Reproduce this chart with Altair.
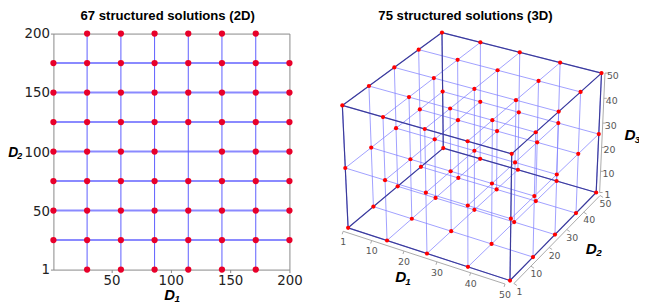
import numpy as np
import pandas as pd
import altair as alt

# ---------------- data ----------------
TITLE_2D = "67 structured solutions (2D)"
TITLE_3D = "75 structured solutions (3D)"

d1_levels_2d = [1, 29.4, 57.9, 86.3, 114.7, 143.1, 171.6, 200]
d2_levels_2d = [1, 25.9, 50.8, 75.6, 100.5, 125.4, 150.3, 175.1, 200]
missing_2d = [(1, 1), (200, 1), (1, 200), (200, 200), (114.7, 100.5)]
x_ticks_2d = [50, 100, 150, 200]
y_ticks_2d = [1, 50, 100, 150, 200]

d1_levels_3d = [1, 13.25, 25.5, 37.75, 50]
d2_levels_3d = [1, 13.25, 25.5, 37.75, 50]
d3_levels_3d = [1, 25.5, 50]
ticks_3d = [1, 10, 20, 30, 40, 50]

# ---------------- 3D camera (view settings) ----------------
PHI = 0.52287      # elevation (rad)
THETA = -1.04706   # azimuth (rad)
DIST = 8.5709      # eye distance, in box widths
HRATIO = 0.75187   # box height / box width
S = 187.855        # pixels per box width
CX, CY = 480.295, 150.629  # page position of box centre

VX0, VY0 = 54, 32  # view origin on page


def screen(P):
    P = np.asarray(P, float)
    a = (P[:, 0] - 25.5) / 49.0
    b = (P[:, 1] - 25.5) / 49.0
    c = (P[:, 2] - 25.5) / 49.0 * HRATIO
    eye = DIST * np.array([np.cos(PHI) * np.cos(THETA), np.cos(PHI) * np.sin(THETA), np.sin(PHI)])
    f = -eye / DIST
    r = np.cross(f, [0, 0, 1.0])
    r /= np.linalg.norm(r)
    u = np.cross(r, f)
    d = np.stack([a, b, c], 1) - eye
    zc = d @ f
    return DIST * (d @ r) / zc, DIST * (d @ u) / zc


# ---------------- 2D layers ----------------
pts2 = pd.DataFrame([(x, y) for y in d2_levels_2d for x in d1_levels_2d
                     if (x, y) not in missing_2d], columns=["D1", "D2"])
vl2 = pd.DataFrame({"D1": d1_levels_2d[1:-1], "lo": d2_levels_2d[0], "hi": d2_levels_2d[-1]})
hl2 = pd.DataFrame({"D2": d2_levels_2d[1:-1], "lo": d1_levels_2d[0], "hi": d1_levels_2d[-1]})

xs2 = alt.Scale(domain=[1, 200], nice=False, zero=False)
ys2 = alt.Scale(domain=[1, 200], nice=False, zero=False)
axis_common = dict(title=None, grid=False, domain=False, tickSize=3, tickColor="#888888",
                   labelFont="DejaVu Sans", labelFontSize=13.5, labelColor="#222222",
                   labelFlush=False, labelOverlap=False)
ax2x = alt.Axis(values=x_ticks_2d, labelPadding=1, **axis_common)
ax2y = alt.Axis(values=y_ticks_2d, labelPadding=1, **axis_common)

v_lines = alt.Chart(vl2).mark_rule(color="#5c5cff", strokeWidth=1).encode(
    x=alt.X("D1:Q", scale=xs2, axis=ax2x),
    y=alt.Y("lo:Q", scale=ys2, axis=ax2y),
    y2="hi:Q")
h_lines = alt.Chart(hl2).mark_rule(color="#8a8aff", strokeWidth=2).encode(
    y=alt.Y("D2:Q", scale=ys2, axis=ax2y),
    x=alt.X("lo:Q", scale=xs2, axis=ax2x),
    x2="hi:Q")
pts2_layer = alt.Chart(pts2).mark_circle(color="#e8002a", opacity=1, size=40).encode(
    x=alt.X("D1:Q", scale=xs2, axis=ax2x),
    y=alt.Y("D2:Q", scale=ys2, axis=ax2y))
layer2d = alt.layer(h_lines, v_lines, pts2_layer)

# ---------------- 3D layers ----------------


def seg_df(segs):
    A = np.array([s[0] for s in segs], float)
    B = np.array([s[1] for s in segs], float)
    ax_, ay_ = screen(A)
    bx_, by_ = screen(B)
    return pd.DataFrame({"sx": ax_, "sy": ay_, "sx2": bx_, "sy2": by_})


lo1, hi1 = d1_levels_3d[0], d1_levels_3d[-1]
lo2, hi2 = d2_levels_3d[0], d2_levels_3d[-1]
lo3, hi3 = d3_levels_3d[0], d3_levels_3d[-1]

grid_segs = []
for b in d2_levels_3d:
    for c in d3_levels_3d:
        grid_segs.append(((lo1, b, c), (hi1, b, c)))
for a in d1_levels_3d:
    for c in d3_levels_3d:
        grid_segs.append(((a, lo2, c), (a, hi2, c)))
for a in d1_levels_3d:
    for b in d2_levels_3d:
        grid_segs.append(((a, b, lo3), (a, b, hi3)))
grid_df = seg_df(grid_segs)

box_segs = []
for b in (lo2, hi2):
    for c in (lo3, hi3):
        box_segs.append(((lo1, b, c), (hi1, b, c)))
for a in (lo1, hi1):
    for c in (lo3, hi3):
        box_segs.append(((a, lo2, c), (a, hi2, c)))
for a in (lo1, hi1):
    for b in (lo2, hi2):
        box_segs.append(((a, b, lo3), (a, b, hi3)))
box_df = seg_df(box_segs)

pts3 = [(a, b, c) for a in d1_levels_3d for b in d2_levels_3d for c in d3_levels_3d]
p3x, p3y = screen(pts3)
pts3_df = pd.DataFrame({"sx": p3x, "sy": p3y})

ax1_df = seg_df([((lo1, lo2, lo3), (hi1, lo2, lo3))])
ax2_df = seg_df([((hi1, lo2, lo3), (hi1, hi2, lo3))])
ax3_df = seg_df([((hi1, hi2, lo3), (hi1, hi2, hi3))])


def tick_df(points):
    sx, sy = screen(points)
    return pd.DataFrame({"sx": sx, "sy": sy, "lab": [str(t) for t in ticks_3d]})


t1_df = tick_df([(t, lo2, lo3) for t in ticks_3d])
t2_df = tick_df([(hi1, t, lo3) for t in ticks_3d])
t3_df = tick_df([(hi1, hi2, t) for t in ticks_3d])

xs3 = alt.Scale(domain=[0, 1], range=[CX - VX0, CX - VX0 + S], nice=False, zero=False)
ys3 = alt.Scale(domain=[0, 1], range=[CY - VY0, CY - VY0 - S], nice=False, zero=False)
X3 = alt.X("sx:Q", scale=xs3, axis=None)
Y3 = alt.Y("sy:Q", scale=ys3, axis=None)


def seg_layer(df, **mk):
    return alt.Chart(df).mark_rule(**mk).encode(x=X3, y=Y3, x2="sx2:Q", y2="sy2:Q")


grid3 = seg_layer(grid_df, color="#7f7fff", strokeWidth=1, opacity=0.75)
box3 = seg_layer(box_df, color="#3b3b9a", strokeWidth=1.2)
axl1 = seg_layer(ax1_df, color="#aaaaaa", strokeWidth=1, xOffset=-5, yOffset=3.5, x2Offset=-5, y2Offset=3.5)
axl2 = seg_layer(ax2_df, color="#aaaaaa", strokeWidth=1, xOffset=4, yOffset=3, x2Offset=4, y2Offset=3)
axl3 = seg_layer(ax3_df, color="#aaaaaa", strokeWidth=1, xOffset=3.5, yOffset=0, x2Offset=3.5, y2Offset=0)


def tick_layer(df, o1, o2):
    return alt.Chart(df).mark_rule(color="#aaaaaa", strokeWidth=1, xOffset=o1[0], yOffset=o1[1],
                                   x2Offset=o2[0], y2Offset=o2[1]).encode(
        x=X3, y=Y3, x2="sx:Q", y2="sy:Q")


tk1 = tick_layer(t1_df, (-5, 3.5), (-6, 6.5))
tk2 = tick_layer(t2_df, (4, 3), (7, 5))
tk3 = tick_layer(t3_df, (3.5, 0), (6.5, 0))


def lab_layer(df, dx, dy):
    return alt.Chart(df).mark_text(font="DejaVu Sans", fontSize=9.5, color="#555555",
                                   align="center", baseline="middle", dx=dx, dy=dy).encode(
        x=X3, y=Y3, text="lab:N")


lb1 = lab_layer(t1_df, -5, 14.5)
lb2 = lab_layer(t2_df, 9.5, 11.4)
lb3 = lab_layer(t3_df, 11.5, 2.5)

pts3_layer = alt.Chart(pts3_df).mark_circle(color="#ff0000", opacity=1, size=18).encode(x=X3, y=Y3)

layer3d = alt.layer(grid3, box3, axl1, axl2, axl3, tk1, tk2, tk3, lb1, lb2, lb3, pts3_layer)

# ---------------- text annotations ----------------
one = pd.DataFrame({"k": [0]})


def txt(s, x, y, size, weight="normal", style="normal", align="center", baseline="alphabetic",
        font="Liberation Sans", color="#000000"):
    return alt.Chart(one).mark_text(text=s, font=font, fontSize=size, fontWeight=weight,
                                    fontStyle=style, align=align, baseline=baseline,
                                    color=color).encode(x=alt.value(x), y=alt.value(y))


texts = [
    txt(TITLE_2D, 169.7 - VX0, 18.7 - VY0, 13.3, weight="bold"),
    txt(TITLE_3D, 471.3 - VX0, 18.7 - VY0, 13.3, weight="bold"),
    txt("D", 171.7 - VX0, 301.7 - VY0, 15, weight="bold", style="italic"),
    txt("1", 179.5 - VX0, 303.5 - VY0, 10, weight="bold", style="italic"),
    txt("D", 13.3 - VX0, 157 - VY0, 14, weight="bold", style="italic"),
    txt("2", 19.8 - VX0, 159 - VY0, 9, weight="bold", style="italic"),
    txt("D", 405.8 - VX0, 283.5 - VY0, 15.5, weight="bold", style="italic"),
    txt("1", 413 - VX0, 287 - VY0, 10, weight="bold", style="italic"),
    txt("D", 598.8 - VX0, 255 - VY0, 15.5, weight="bold", style="italic"),
    txt("2", 606.5 - VX0, 257.7 - VY0, 10, weight="bold", style="italic"),
    txt("D", 638 - VX0, 140 - VY0, 15.5, weight="bold", style="italic"),
    txt("3", 645.5 - VX0, 142.7 - VY0, 10, weight="bold", style="italic"),
]

chart = alt.layer(layer2d, layer3d, *texts).resolve_scale(
    x="independent", y="independent"
).properties(
    width=239, height=239,
    autosize=alt.AutoSizeParams(type="none"),
    padding={"left": 46, "top": 24, "right": 354, "bottom": 37},
).configure_view(stroke="#888888", strokeWidth=1)

chart.save("out.html", embed_options={"renderer": "svg", "actions": False})
